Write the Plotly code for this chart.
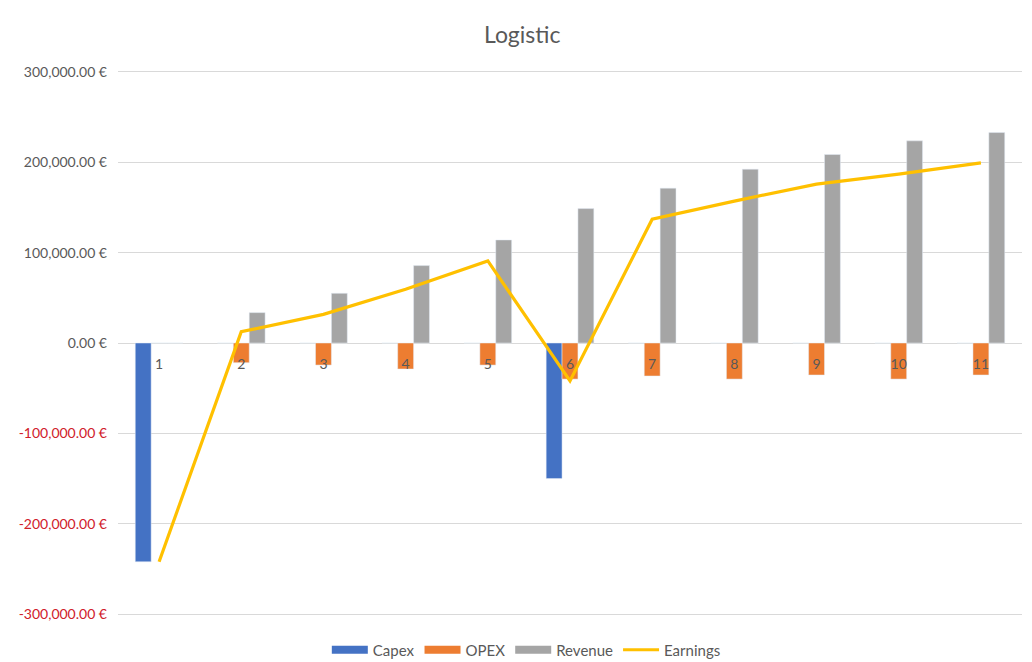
import plotly.graph_objects as go

# Yearly figures for the logistic project (EUR)
periods = ["1", "2", "3", "4", "5", "6", "7", "8", "9", "10", "11"]
capex = [-242000, 0, 0, 0, 0, -150000, 0, 0, 0, 0, 0]
opex = [0, -21800, -24400, -28800, -24400, -39900, -36500, -39900, -35400, -39900, -35400]
revenue = [0, 33600, 55000, 85600, 114000, 148700, 171300, 192300, 208500, 223600, 232800]
earnings = [-242000, 12500, 31700, 59400, 90800, -42000, 137000, 157000, 175700, 186800, 199300]

y_ticks = [-300000, -200000, -100000, 0, 100000, 200000, 300000]

COL_CAPEX = "#4472C4"
COL_OPEX = "#ED7D31"
COL_REV = "#A5A5A5"
COL_EARN = "#FFC000"
TEXT = "#595959"
NEG = "#D0202A"
FONT = "Lato, 'Open Sans', sans-serif"
FS = 14


def euro(v):
    s = f"{v:,.2f} €"
    if v < 0:
        return f"<span style='color:{NEG}'>{s}</span>"
    return s


fig = go.Figure()
fig.add_bar(x=periods, y=capex, name="Capex", marker_color=COL_CAPEX, showlegend=False)
fig.add_bar(x=periods, y=opex, name="OPEX", marker_color=COL_OPEX, showlegend=False)
fig.add_bar(x=periods, y=revenue, name="Revenue", marker_color=COL_REV, showlegend=False)
fig.add_scatter(x=periods, y=earnings, name="Earnings", mode="lines",
                line=dict(color=COL_EARN, width=3.2), showlegend=False)

# Legend keys drawn as wide strips
for name, col, w in [("Capex", COL_CAPEX, 8), ("OPEX", COL_OPEX, 8),
                     ("Revenue", COL_REV, 8), ("Earnings", COL_EARN, 3)]:
    fig.add_scatter(x=[None], y=[None], mode="lines", name=name,
                    line=dict(color=col, width=w), showlegend=True)

fig.update_layout(
    width=1032, height=662,
    margin=dict(l=118, r=10, t=70, b=46, autoexpand=False),
    paper_bgcolor="white", plot_bgcolor="white",
    font=dict(family=FONT, size=FS, color=TEXT),
    title=dict(text="Logistic", xref="container", x=0.506, xanchor="center",
               y=0.947, yanchor="middle", font=dict(size=23, color=TEXT)),
    barmode="group", bargap=0.42, bargroupgap=0,
    legend=dict(orientation="h", xref="container", x=0.51, xanchor="center",
                yref="container", y=0.018, yanchor="middle",
                font=dict(size=15, color=TEXT), itemwidth=36, tracegroupgap=0),
    xaxis=dict(type="category", anchor="free", position=0.5, showgrid=False,
               showline=False, ticks="", ticklabelstandoff=11,
               tickfont=dict(size=FS, color=TEXT)),
    yaxis=dict(range=[-302000, 302000], tickvals=y_ticks,
               ticktext=[euro(v) for v in y_ticks],
               showgrid=True, gridcolor="#D9D9D9", gridwidth=1,
               zeroline=True, zerolinecolor="#D9D9D9", zerolinewidth=1,
               ticks="", ticklabelstandoff=10,
               tickfont=dict(size=FS, color=TEXT)),
)

fig.write_html("out.html")
